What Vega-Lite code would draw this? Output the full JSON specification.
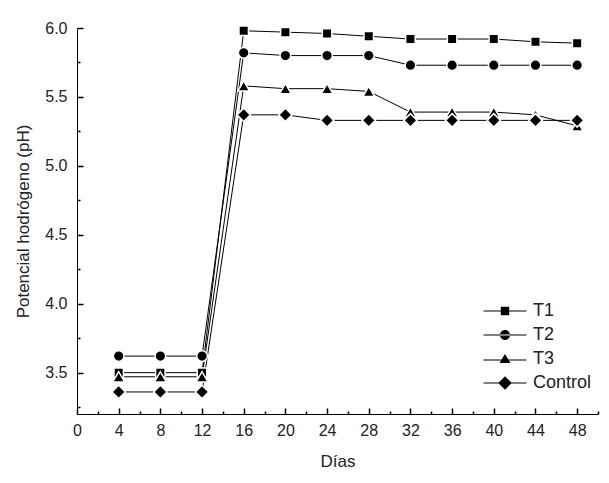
{
  "$schema": "https://vega.github.io/schema/vega-lite/v6.json",
  "width": 521,
  "height": 386,
  "autosize": "none",
  "padding": {"left": 77, "top": 28, "right": 11, "bottom": 69},
  "background": "white",
  "data": {
    "values": [
      {"dia": 4, "serie": "T1", "ph": 3.50},
      {"dia": 8, "serie": "T1", "ph": 3.50},
      {"dia": 12, "serie": "T1", "ph": 3.50},
      {"dia": 16, "serie": "T1", "ph": 5.98},
      {"dia": 20, "serie": "T1", "ph": 5.97},
      {"dia": 24, "serie": "T1", "ph": 5.96},
      {"dia": 28, "serie": "T1", "ph": 5.94},
      {"dia": 32, "serie": "T1", "ph": 5.92},
      {"dia": 36, "serie": "T1", "ph": 5.92},
      {"dia": 40, "serie": "T1", "ph": 5.92},
      {"dia": 44, "serie": "T1", "ph": 5.90},
      {"dia": 48, "serie": "T1", "ph": 5.89},
      {"dia": 4, "serie": "T2", "ph": 3.62},
      {"dia": 8, "serie": "T2", "ph": 3.62},
      {"dia": 12, "serie": "T2", "ph": 3.62},
      {"dia": 16, "serie": "T2", "ph": 5.82},
      {"dia": 20, "serie": "T2", "ph": 5.80},
      {"dia": 24, "serie": "T2", "ph": 5.80},
      {"dia": 28, "serie": "T2", "ph": 5.80},
      {"dia": 32, "serie": "T2", "ph": 5.73},
      {"dia": 36, "serie": "T2", "ph": 5.73},
      {"dia": 40, "serie": "T2", "ph": 5.73},
      {"dia": 44, "serie": "T2", "ph": 5.73},
      {"dia": 48, "serie": "T2", "ph": 5.73},
      {"dia": 4, "serie": "T3", "ph": 3.47},
      {"dia": 8, "serie": "T3", "ph": 3.47},
      {"dia": 12, "serie": "T3", "ph": 3.47},
      {"dia": 16, "serie": "T3", "ph": 5.58},
      {"dia": 20, "serie": "T3", "ph": 5.56},
      {"dia": 24, "serie": "T3", "ph": 5.56},
      {"dia": 28, "serie": "T3", "ph": 5.54},
      {"dia": 32, "serie": "T3", "ph": 5.39},
      {"dia": 36, "serie": "T3", "ph": 5.39},
      {"dia": 40, "serie": "T3", "ph": 5.39},
      {"dia": 44, "serie": "T3", "ph": 5.37},
      {"dia": 48, "serie": "T3", "ph": 5.29},
      {"dia": 4, "serie": "Control", "ph": 3.36},
      {"dia": 8, "serie": "Control", "ph": 3.36},
      {"dia": 12, "serie": "Control", "ph": 3.36},
      {"dia": 16, "serie": "Control", "ph": 5.37},
      {"dia": 20, "serie": "Control", "ph": 5.37},
      {"dia": 24, "serie": "Control", "ph": 5.33},
      {"dia": 28, "serie": "Control", "ph": 5.33},
      {"dia": 32, "serie": "Control", "ph": 5.33},
      {"dia": 36, "serie": "Control", "ph": 5.33},
      {"dia": 40, "serie": "Control", "ph": 5.33},
      {"dia": 44, "serie": "Control", "ph": 5.33},
      {"dia": 48, "serie": "Control", "ph": 5.33}
    ]
  },
  "encoding": {
    "x": {
      "field": "dia",
      "type": "quantitative",
      "title": "Días",
      "scale": {"domain": [0, 50], "nice": false, "zero": false},
      "axis": {
        "tickCount": 25,
        "labelExpr": "datum.value % 4 === 0 ? datum.label : ''",
        "labelFlush": false,
        "labelOverlap": false,
        "tickSize": {"condition": {"test": "datum.value % 4 === 0", "value": -6}, "value": -3},
        "tickWidth": 1.5,
        "tickColor": "black",
        "labelPadding": 14,
        "titlePadding": 12
      }
    },
    "y": {
      "field": "ph",
      "type": "quantitative",
      "title": "Potencial hodrógeno (pH)",
      "scale": {"domain": [3.2, 6.0], "nice": false, "zero": false},
      "axis": {
        "values": [3.25, 3.5, 3.75, 4.0, 4.25, 4.5, 4.75, 5.0, 5.25, 5.5, 5.75, 6.0],
        "labelExpr": "abs(datum.value * 2 - round(datum.value * 2)) < 0.01 ? format(datum.value, '.1f') : ''",
        "tickSize": {"condition": {"test": "abs(datum.value * 2 - round(datum.value * 2)) < 0.01", "value": -6}, "value": -3},
        "tickWidth": 1.5,
        "tickColor": "black",
        "labelPadding": 16,
        "titlePadding": 12
      }
    }
  },
  "layer": [
    {
      "mark": {"type": "line", "color": "black", "strokeWidth": 1},
      "encoding": {"detail": {"field": "serie"}}
    },
    {
      "transform": [{"filter": "datum.serie === 'T1'"}],
      "mark": {"type": "point", "filled": true, "fill": "black", "stroke": "white", "strokeWidth": 1.5, "opacity": 1, "size": 90, "shape": "square"}
    },
    {
      "transform": [{"filter": "datum.serie === 'T2'"}],
      "mark": {"type": "point", "filled": true, "fill": "black", "stroke": "white", "strokeWidth": 1.5, "opacity": 1, "size": 115, "shape": "circle"}
    },
    {
      "transform": [{"filter": "datum.serie === 'T3'"}],
      "mark": {"type": "point", "filled": true, "fill": "black", "stroke": "white", "strokeWidth": 1.5, "opacity": 1, "size": 140, "shape": "triangle-up"}
    },
    {
      "transform": [{"filter": "datum.serie === 'Control'"}],
      "mark": {"type": "point", "filled": true, "fill": "black", "stroke": "white", "strokeWidth": 1.5, "opacity": 1, "size": 180, "shape": "diamond"}
    },
    {
      "transform": [{"filter": "false"}],
      "mark": {"type": "point", "filled": true, "color": "black", "opacity": 1},
      "encoding": {
        "shape": {
          "field": "serie",
          "type": "nominal",
          "scale": {
            "domain": ["T1", "T2", "T3", "Control"],
            "range": [
              "M-2.15,-0.05H2.15V0.05H-2.15ZM-0.42,-0.42H0.42V0.42H-0.42Z",
              "M-2.15,-0.05H2.15V0.05H-2.15ZM-0.5,0A0.5,0.5,0,1,0,0.5,0A0.5,0.5,0,1,0,-0.5,0Z",
              "M-2.15,0.05H2.15V0.15H-2.15ZM0,-0.5L0.55,0.4H-0.55Z",
              "M-2.15,-0.05H2.15V0.05H-2.15ZM0,-0.68L0.68,0L0,0.68L-0.68,0Z"
            ]
          },
          "legend": {
            "title": null,
            "orient": "none",
            "legendX": 417,
            "legendY": 272,
            "symbolSize": 400,
            "labelOffset": 17,
            "rowPadding": 4,
            "labelFontSize": 18,
            "labelFont": "Liberation Sans",
            "labelColor": "#222"
          }
        }
      }
    }
  ],
  "config": {
    "view": {"stroke": null},
    "font": "Liberation Sans",
    "axis": {
      "grid": false,
      "domainColor": "black",
      "labelFont": "Liberation Sans",
      "labelFontSize": 16,
      "labelColor": "#222",
      "titleFont": "Liberation Sans",
      "titleFontSize": 17,
      "titleFontWeight": "normal",
      "titleColor": "#222"
    }
  }
}
